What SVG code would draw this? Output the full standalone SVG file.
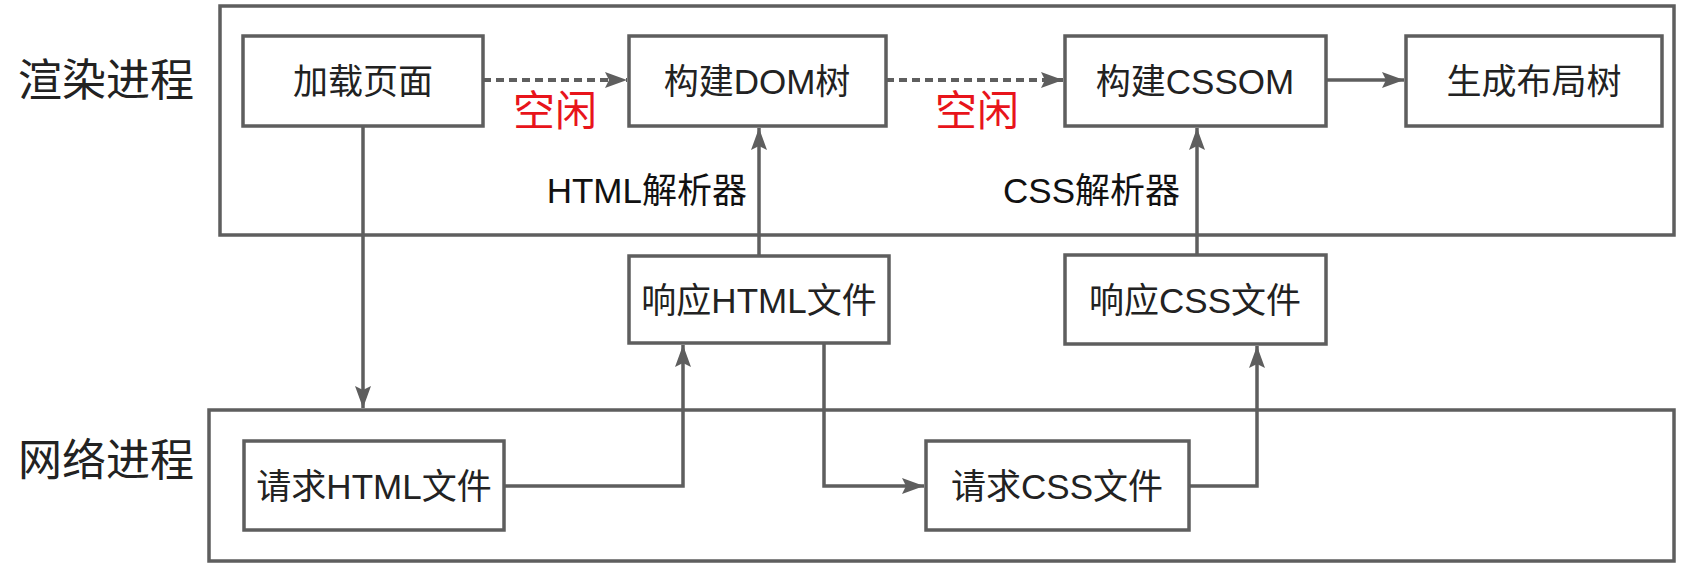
<svg xmlns="http://www.w3.org/2000/svg" width="1695" height="567" viewBox="0 0 1695 567">
<defs>
<style>
.box{fill:#ffffff;stroke:#5e5e5e;stroke-width:3.5}
.frame{fill:none;stroke:#5e5e5e;stroke-width:3.5}
.t{font-family:"Liberation Sans","Noto Sans CJK SC",sans-serif;font-size:35px;fill:#222222;text-anchor:middle;dominant-baseline:central}
.lab{font-family:"Liberation Sans","Noto Sans CJK SC",sans-serif;font-size:44px;fill:#222222;dominant-baseline:central}
.p{font-family:"Liberation Sans","Noto Sans CJK SC",sans-serif;font-size:35px;fill:#111111;text-anchor:end;dominant-baseline:central}
.idle{font-family:"Liberation Sans","Noto Sans CJK SC",sans-serif;font-size:42px;fill:#e8141b;text-anchor:middle;dominant-baseline:central}
.c{fill:none;stroke:#5e5e5e;stroke-width:3.5;marker-end:url(#ah)}
.d{fill:none;stroke:#5e5e5e;stroke-width:4;stroke-dasharray:8 5;marker-end:url(#ah)}
</style>
<marker id="ah" markerUnits="userSpaceOnUse" markerWidth="24" markerHeight="18" refX="22" refY="8" orient="auto">
<path d="M0,0 L22,8 L0,16 L4,8 z" fill="#5e5e5e"/>
</marker>
</defs>
<g id="render-process">
<rect class="frame" x="220" y="6" width="1454" height="229"/>
<text class="lab" x="18" y="80">渲染进程</text>
</g>
<g id="network-process">
<rect class="frame" x="209" y="410" width="1465" height="151"/>
<text class="lab" x="18" y="460">网络进程</text>
</g>
<g id="connectors">
<path class="c" d="M363,126 L363,408"/>
<path class="c" d="M504,486 L683,486 L683,345"/>
<path class="c" d="M759,256 L759,128"/>
<path class="c" d="M824,343 L824,486 L924,486"/>
<path class="c" d="M1189,486 L1257,486 L1257,346"/>
<path class="c" d="M1197,255 L1197,128"/>
<path class="d" d="M483,80 L627,80"/>
<path class="d" d="M886,80 L1063,80"/>
<path class="c" d="M1326,80 L1404,80"/>
</g>
<g id="idle-labels">
<text class="idle" x="555" y="111">空闲</text>
<text class="idle" x="977" y="111">空闲</text>
</g>
<g id="parser-labels">
<text class="p" x="747" y="190">HTML解析器</text>
<text class="p" x="1180" y="190">CSS解析器</text>
</g>
<g id="load-page"><rect class="box" x="243" y="36" width="240" height="90"/><text class="t" x="363" y="81">加载页面</text></g>
<g id="build-dom"><rect class="box" x="629" y="36" width="257" height="90"/><text class="t" x="757" y="81">构建DOM树</text></g>
<g id="build-cssom"><rect class="box" x="1065" y="36" width="261" height="90"/><text class="t" x="1195" y="81">构建CSSOM</text></g>
<g id="layout-tree"><rect class="box" x="1406" y="36" width="256" height="90"/><text class="t" x="1534" y="81">生成布局树</text></g>
<g id="resp-html"><rect class="box" x="629" y="256" width="260" height="87"/><text class="t" x="759" y="300">响应HTML文件</text></g>
<g id="resp-css"><rect class="box" x="1065" y="255" width="261" height="89"/><text class="t" x="1195" y="300">响应CSS文件</text></g>
<g id="req-html"><rect class="box" x="244" y="441" width="260" height="89"/><text class="t" x="374" y="486">请求HTML文件</text></g>
<g id="req-css"><rect class="box" x="926" y="441" width="263" height="89"/><text class="t" x="1057" y="486">请求CSS文件</text></g>
</svg>
